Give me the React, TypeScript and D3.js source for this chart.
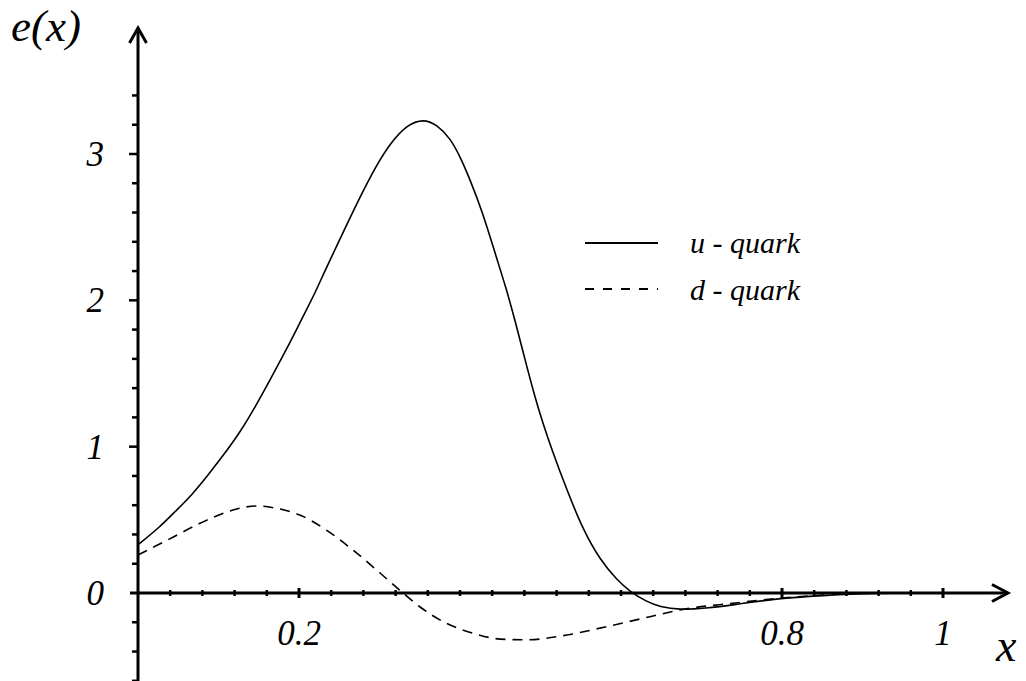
import * as d3 from 'd3';

// u-quark curve
const uX = [0, 0.027, 0.046, 0.067, 0.087, 0.108, 0.127, 0.147, 0.164, 0.185, 0.205, 0.22, 0.232, 0.251, 0.276, 0.297, 0.313, 0.334, 0.355, 0.371, 0.388, 0.402, 0.412, 0.427, 0.446, 0.458, 0.468, 0.481, 0.493, 0.503, 0.514, 0.533, 0.553, 0.574, 0.595, 0.611, 0.632, 0.648, 0.673, 0.705, 0.739, 0.797, 0.864, 0.905, 1];
const uY = [0.33, 0.45, 0.556, 0.67, 0.806, 0.955, 1.1, 1.285, 1.456, 1.67, 1.89, 2.05, 2.2, 2.42, 2.71, 2.93, 3.07, 3.2, 3.24, 3.2, 3.11, 2.96, 2.83, 2.62, 2.28, 2.07, 1.87, 1.59, 1.34, 1.16, 0.98, 0.7, 0.43, 0.226, 0.089, 0.01, -0.06, -0.094, -0.116, -0.105, -0.082, -0.034, -0.014, 0, 0];

// d-quark curve
const dX = [0, 0.036, 0.077, 0.118, 0.147, 0.172, 0.201, 0.234, 0.267, 0.301, 0.325, 0.35, 0.383, 0.417, 0.45, 0.483, 0.533, 0.582, 0.636, 0.673, 0.739, 0.8, 0.864, 0.92, 1];
const dY = [0.26, 0.36, 0.476, 0.567, 0.595, 0.579, 0.533, 0.43, 0.294, 0.135, 0.02, -0.094, -0.207, -0.276, -0.315, -0.32, -0.287, -0.23, -0.162, -0.116, -0.07, -0.035, -0.01, 0, 0];

const xLabels = ['0.2', '0.8', '1'];
const yLabels = ['0', '1', '2', '3'];

const font = '"Liberation Serif", "Times New Roman", serif';

export default function App() {
  const width = 1026;
  const height = 681;

  const x = d3.scaleLinear().domain([0, 1]).range([138, 943]);
  const y = d3.scaleLinear().domain([0, 3]).range([593, 154]);

  const line = (curve: d3.CurveFactory) =>
    d3
      .line<[number, number]>()
      .x((d) => x(d[0]))
      .y((d) => y(d[1]))
      .curve(curve);

  const uPts = uX.map((v, i) => [v, uY[i]] as [number, number]);
  const dPts = dX.map((v, i) => [v, dY[i]] as [number, number]);

  const xMinor = d3.range(1, 26).map((i) => i * 0.04);
  const yMinor = d3.range(-3, 18).map((i) => i * 0.2);

  const x0 = x(0);
  const y0 = y(0);
  const xEnd = 1008;
  const yTop = 28;

  return (
    <svg
      width={width}
      height={height}
      style={{ position: 'fixed', left: 0, top: 0, background: '#fff', fontFamily: font, fontStyle: 'italic' }}
    >
      {/* axes */}
      <line x1={130} x2={xEnd} y1={y0} y2={y0} stroke="#000" strokeWidth={3} />
      <line x1={x0} x2={x0} y1={yTop} y2={681} stroke="#000" strokeWidth={3} />
      <polyline
        points={`${x0 - 8.5},${yTop + 15} ${x0},${yTop} ${x0 + 8.5},${yTop + 15}`}
        fill="none"
        stroke="#000"
        strokeWidth={3}
      />
      <polyline
        points={`${xEnd - 16},${y0 - 8.5} ${xEnd},${y0} ${xEnd - 16},${y0 + 8.5}`}
        fill="none"
        stroke="#000"
        strokeWidth={3}
      />

      {/* x ticks */}
      {xMinor.map((t) => {
        const major = xLabels.includes(d3.format('~g')(+t.toFixed(2)));
        return (
          <line
            key={`xt${t}`}
            x1={x(t)}
            x2={x(t)}
            y1={y0 - (major ? 5 : 3)}
            y2={y0 + (major ? 5 : 3)}
            stroke="#000"
            strokeWidth={major ? 3 : 2.5}
          />
        );
      })}

      {/* y ticks */}
      {yMinor.map((t) => {
        const major = Math.abs(t - Math.round(t)) < 1e-6;
        if (Math.abs(t) < 1e-6) return null;
        return (
          <line
            key={`yt${t}`}
            x1={x0 - (major ? 9 : 6)}
            x2={x0}
            y1={y(t)}
            y2={y(t)}
            stroke="#000"
            strokeWidth={2.5}
          />
        );
      })}

      {/* tick labels */}
      {xLabels.map((l) => (
        <text key={`xl${l}`} x={x(+l)} y={645} fontSize={35} textAnchor="middle">
          {l}
        </text>
      ))}
      {yLabels.map((l) => (
        <text key={`yl${l}`} x={104} y={y(+l) + 12} fontSize={35} textAnchor="end">
          {l}
        </text>
      ))}

      {/* axis titles */}
      <text x={11} y={41} fontSize={45}>
        e(x)
      </text>
      <text x={996} y={661} fontSize={46}>
        x
      </text>

      {/* curves */}
      <path d={line(d3.curveBasis)(uPts) ?? ''} fill="none" stroke="#000" strokeWidth={1.6} />
      <path
        d={line(d3.curveMonotoneX)(dPts) ?? ''}
        fill="none"
        stroke="#000"
        strokeWidth={1.6}
        strokeDasharray="10,7"
      />

      {/* legend */}
      <line x1={585} x2={658} y1={243} y2={243} stroke="#000" strokeWidth={1.8} />
      <line x1={585} x2={658} y1={289} y2={289} stroke="#000" strokeWidth={1.8} strokeDasharray="9,9" />
      <text x={690} y={253} fontSize={30}>
        u - quark
      </text>
      <text x={690} y={300} fontSize={30}>
        d - quark
      </text>
    </svg>
  );
}
